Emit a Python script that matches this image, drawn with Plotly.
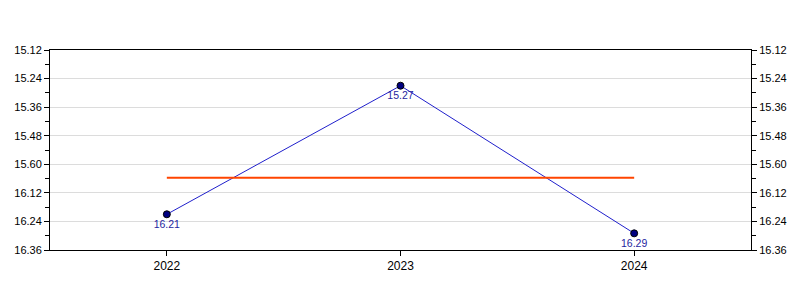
import plotly.graph_objects as go

years = ["2022", "2023", "2024"]
times = ["16.21", "15.27", "16.29"]  # minutes.seconds
tick_labels = ["15.12", "15.24", "15.36", "15.48", "15.60", "16.12", "16.24", "16.36"]


def to_sec(s):
    m, sec = s.split(".")
    return int(m) * 60 + int(sec)


secs = [to_sec(t) for t in times]
mean_sec = sum(secs) / len(secs)
tick_vals = [to_sec(t) for t in tick_labels]
minor_vals = [(a + b) / 2 for a, b in zip(tick_vals[:-1], tick_vals[1:])]
yrange = [tick_vals[-1], tick_vals[0]]

ff = "Liberation Sans, Arial, sans-serif"
font = dict(family=ff, size=11, color="#000000")

fig = go.Figure()
fig.add_trace(go.Scatter(
    x=years, y=secs, mode="lines+markers+text", text=times,
    textposition="bottom center",
    textfont=dict(family=ff, size=10.5, color="#1f1fa0"),
    line=dict(color="#2020cc", width=1),
    marker=dict(color="#000080", size=7, line=dict(color="#000000", width=1)),
    showlegend=False,
))
fig.add_trace(go.Scatter(
    x=[years[0], years[-1]], y=[mean_sec, mean_sec], mode="lines",
    line=dict(color="#FF4500", width=2), hoverinfo="skip", showlegend=False,
))
fig.add_trace(go.Scatter(
    x=years, y=secs, yaxis="y2", mode="markers", marker=dict(opacity=0),
    hoverinfo="skip", showlegend=False,
))

yax = dict(
    range=yrange, tickmode="array", tickvals=tick_vals, ticktext=tick_labels,
    ticks="outside", ticklen=5, tickcolor="#000", showline=True, linecolor="#000",
    linewidth=1, showgrid=True, gridcolor="#dcdcdc", gridwidth=1, zeroline=False,
    tickfont=font,
    minor=dict(tickmode="array", tickvals=minor_vals, ticks="outside", ticklen=4,
               tickcolor="#000", showgrid=False),
)
fig.update_layout(
    width=800, height=300,
    margin=dict(l=50, r=49, t=50, b=50),
    paper_bgcolor="white", plot_bgcolor="white",
    font=font,
    xaxis=dict(type="category", categoryorder="array", categoryarray=years,
               range=[-0.5, 2.5], ticks="outside", ticklen=5,
               tickcolor="#000", showline=True, linecolor="#000", linewidth=1,
               mirror=True, showgrid=False, zeroline=False,
               tickfont=dict(family=ff, size=12, color="#000")),
    yaxis=yax,
    yaxis2=dict(yax, overlaying="y", side="right", showgrid=False),
)
fig.write_html("out.html")
